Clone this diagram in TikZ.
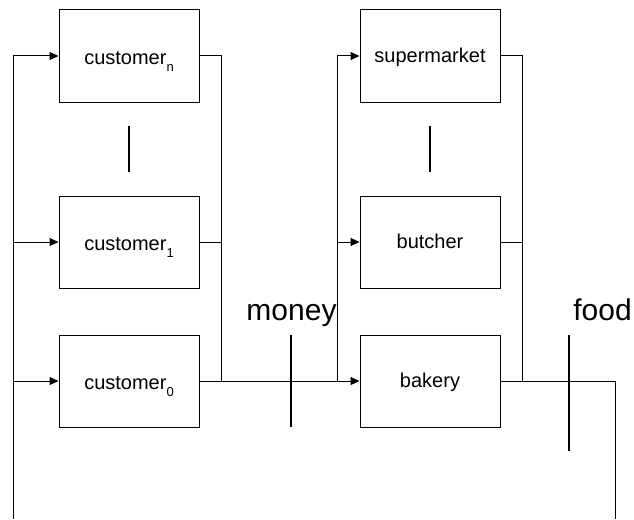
\documentclass[tikz,border=0pt]{standalone}
\usepackage{fontspec}
\setmainfont{Liberation Sans}
\usetikzlibrary{arrows.meta}
\newcommand{\sublabel}[2]{#1\raisebox{-7pt}{\fontsize{13}{13}\selectfont #2}}
\begin{document}
\begin{tikzpicture}[x=1pt,y=-1pt,
  line width=1pt,
  box/.style={draw, rectangle, minimum width=140pt, minimum height=92pt,
              inner sep=0pt, font=\fontsize{20}{24}\selectfont},
  custbox/.style={box, text height=16pt, text depth=0pt},
  shopbox/.style={box, text height=14pt, text depth=1pt},
  wire/.style={draw, line width=1pt},
  feed/.style={wire, -{Triangle[length=9pt,width=8pt]}},
  tick/.style={line width=1.5pt},
  flowlabel/.style={anchor=base, font=\fontsize{30}{36}\selectfont, inner sep=0pt}]
\useasboundingbox (0,0) rectangle (634,519);

% customers
\node[custbox] (cn) at (129,56)  {\sublabel{customer}{n}};
\node[custbox] (c1) at (129,242) {\sublabel{customer}{1}};
\node[custbox] (c0) at (129,381) {\sublabel{customer}{0}};

% shops
\node[shopbox] (sm) at (430,56)  {supermarket};
\node[shopbox] (bu) at (430,242) {butcher};
\node[shopbox] (ba) at (430,381) {bakery};

% junction points
\coordinate (lB) at (13,519);
\coordinate (cR) at (221,381);
\coordinate (sL) at (337,381);
\coordinate (sR) at (522,381);
\coordinate (rT) at (615,381);
\coordinate (rB) at (615,519);

% food returning to the customers
\draw[feed] (lB) |- (cn.west);
\draw[feed] (c1.west -| lB) -- (c1.west);
\draw[feed] (c0.west -| lB) -- (c0.west);

% money leaving the customers
\draw[wire] (cn.east) -| (cR);
\draw[wire] (c1.east) -- (c1.east -| cR);
\draw[feed] (c0.east) -- (ba.west);

% money reaching the shops
\draw[feed] (sL) |- (sm.west);
\draw[feed] (bu.west -| sL) -- (bu.west);

% food leaving the shops
\draw[wire] (sm.east) -| (sR);
\draw[wire] (bu.east) -- (bu.east -| sR);
\draw[wire] (ba.east) -- (rT) -- (rB);

% ellipsis marks between boxes
\draw[tick] (129,126) -- (129,172);
\draw[tick] (430,126) -- (430,172);

% flow cuts
\draw[tick] (291,335) -- (291,427);
\draw[tick] (569,335) -- (569,451);
\node[flowlabel] (money) at (291.5,320.5) {money};
\node[flowlabel] (food) at (602.5,320.5) {food};
\end{tikzpicture}
\end{document}
